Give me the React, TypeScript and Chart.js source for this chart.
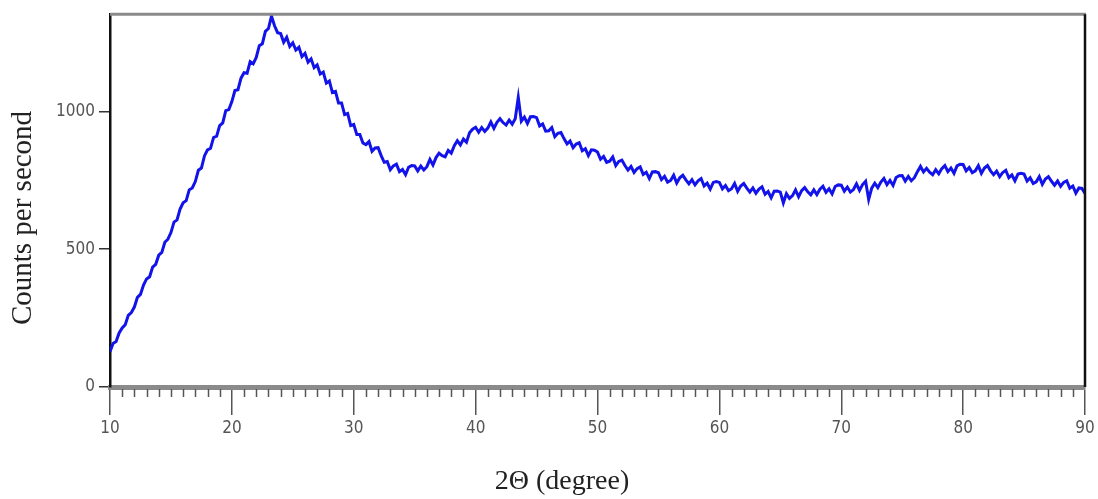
import React, { useEffect, useRef } from "react";
import { Chart, registerables } from "chart.js";

Chart.register(...registerables);

// Scan start / step of the diffractometer (degrees 2θ)
const START_DEG = 10;
const STEP_DEG = 0.25;

// Counts per second, one row per degree (4 samples per degree)
const counts: number[] = [
  128, 158, 165, 196,
  214, 226, 260, 270,
  290, 325, 336, 370,
  392, 400, 435, 445,
  478, 488, 525, 536,
  560, 598, 606, 645,
  668, 676, 715, 722,
  745, 786, 794, 838,
  860, 866, 905, 910,
  948, 958, 1002, 1006,
  1035, 1075, 1078, 1120,
  1140, 1138, 1180, 1172,
  1195, 1238, 1245, 1290,
  1300, 1345, 1310, 1285,
  1282, 1250, 1268, 1235,
  1248, 1222, 1232, 1198,
  1210, 1178, 1190, 1158,
  1168, 1135, 1142, 1102,
  1110, 1068, 1072, 1030,
  1030, 988, 992, 948,
  952, 916, 916, 885,
  879, 890, 855, 867,
  868, 839, 815, 818,
  788, 802, 808, 781,
  789, 770, 797, 803,
  802, 784, 801, 787,
  799, 825, 805, 832,
  848, 839, 835, 858,
  848, 875, 893, 878,
  899, 888, 922, 935,
  942, 924, 941, 927,
  939, 961, 938, 960,
  973, 959, 950, 968,
  953, 973, 1050, 964,
  979, 956, 980, 981,
  977, 947, 954, 928,
  929, 941, 908, 920,
  923, 901, 882, 892,
  868, 881, 886, 857,
  864, 839, 860, 859,
  852, 826, 836, 815,
  819, 834, 803, 818,
  823, 803, 787, 800,
  778, 792, 798, 771,
  779, 756, 780, 781,
  777, 752, 764, 743,
  749, 768, 740, 759,
  768, 751, 737, 752,
  733, 748, 756, 729,
  739, 718, 742, 745,
  742, 719, 731, 712,
  719, 738, 710, 729,
  738, 721, 707, 722,
  703, 718, 726, 699,
  709, 686, 710, 711,
  707, 668, 701, 684,
  694, 715, 690, 712,
  723, 708, 697, 715,
  698, 717, 728, 706,
  719, 700, 727, 733,
  732, 710, 725, 707,
  716, 737, 713, 734,
  746, 680, 721, 739,
  723, 743, 756, 734,
  749, 731, 760, 766,
  767, 747, 764, 748,
  759, 781, 800, 780,
  793, 779, 770, 788,
  773, 792, 803, 781,
  794, 775, 802, 808,
  807, 784, 796, 777,
  784, 803, 775, 794,
  803, 784, 770, 783,
  763, 778, 786, 759,
  769, 748, 772, 775,
  772, 747, 759, 738,
  744, 763, 735, 754,
  763, 746, 732, 747,
  728, 742, 748, 721,
  729, 703, 722, 720,
  702,
];

const yTickValues = [0, 500, 1000];
const xMajorTicks = [10, 20, 30, 40, 50, 60, 70, 80, 90];
const xMin = 10;
const xMax = 90;
const yMax = 1352;

const yTitle = "Counts per second";
const xTitle = "2Θ (degree)";

const tickFont = '"Liberation Sans Narrow", "DejaVu Sans Condensed", "Arial Narrow", sans-serif';
const serif = '"Liberation Serif", "Times New Roman", serif';

const framePlugin = {
  id: "frameAndTitles",
  afterDraw(chart: any) {
    const { ctx, chartArea } = chart;
    const xs = chart.scales.x;
    ctx.save();
    // minor ticks every degree
    ctx.strokeStyle = "#555";
    ctx.lineWidth = 1.5;
    for (let d = xMin; d <= xMax; d++) {
      if (d % 10 === 0) continue;
      const px = Math.round(xs.getPixelForValue(d)) + 0.5;
      ctx.beginPath();
      ctx.moveTo(px, chartArea.bottom + 2);
      ctx.lineTo(px, chartArea.bottom + 10);
      ctx.stroke();
    }
    // top border (gray) and right border (black)
    ctx.strokeStyle = "#8a8a8a";
    ctx.lineWidth = 3;
    ctx.beginPath();
    ctx.moveTo(chartArea.left, chartArea.top);
    ctx.lineTo(chartArea.right + 1, chartArea.top);
    ctx.stroke();
    ctx.strokeStyle = "#111";
    ctx.lineWidth = 2.5;
    ctx.beginPath();
    ctx.moveTo(chartArea.right, chartArea.top);
    ctx.lineTo(chartArea.right, chartArea.bottom);
    ctx.stroke();

    // axis titles
    ctx.fillStyle = "#222";
    ctx.textAlign = "center";
    ctx.textBaseline = "middle";
    ctx.font = `28px ${serif}`;
    ctx.fillText(xTitle, 562, 482);
    ctx.translate(23, 218);
    ctx.rotate(-Math.PI / 2);
    ctx.font = `29px ${serif}`;
    ctx.fillText(yTitle, 0, 0);
    ctx.restore();
  },
};

export default function App() {
  const ref = useRef<HTMLCanvasElement | null>(null);

  useEffect(() => {
    if (!ref.current) return;
    const points = counts.map((v, i) => ({ x: START_DEG + i * STEP_DEG, y: v }));
    const chart = new Chart(ref.current, {
      type: "line",
      data: {
        datasets: [
          {
            data: points,
            borderColor: "rgb(18,18,235)",
            borderWidth: 3,
            pointRadius: 0,
            tension: 0,
            fill: false,
          },
        ],
      },
      options: {
        animation: false,
        responsive: false,
        devicePixelRatio: 1,
        parsing: false as any,
        layout: { padding: { top: 12.5, right: 13, left: 0, bottom: 0 } },
        plugins: { legend: { display: false }, tooltip: { enabled: false }, title: { display: false } },
        scales: {
          x: {
            type: "linear",
            min: xMin,
            max: xMax,
            afterFit: (s: any) => {
              s.height = 112;
            },
            afterBuildTicks: (s: any) => {
              s.ticks = xMajorTicks.map((v) => ({ value: v }));
            },
            ticks: {
              color: "#555",
              font: { family: tickFont, size: 17 },
              padding: 3,
              maxRotation: 0,
              autoSkip: false,
              callback: (v: any) => String(v),
            },
            grid: {
              drawOnChartArea: false,
              drawTicks: true,
              tickLength: 28,
              color: "#555",
              lineWidth: 1.5,
            },
            border: { display: true, color: "#8a8a8a", width: 5 },
          },
          y: {
            type: "linear",
            min: 0,
            max: yMax,
            afterFit: (s: any) => {
              s.width = 110;
            },
            afterBuildTicks: (s: any) => {
              s.ticks = yTickValues.map((v) => ({ value: v }));
            },
            ticks: {
              color: "#555",
              font: { family: tickFont, size: 17 },
              padding: 4,
              autoSkip: false,
              callback: (v: any) => String(v),
            },
            grid: {
              drawOnChartArea: false,
              drawTicks: true,
              tickLength: 11,
              color: "#333",
              lineWidth: 1.5,
            },
            border: { display: true, color: "#111", width: 2.5 },
          },
        },
      },
      plugins: [framePlugin],
    });
    return () => chart.destroy();
  }, []);

  return (
    <div style={{ position: "fixed", left: 0, top: 0, width: 1098, height: 499, background: "#fff" }}>
      <canvas ref={ref} width={1098} height={499} style={{ display: "block" }} />
    </div>
  );
}
